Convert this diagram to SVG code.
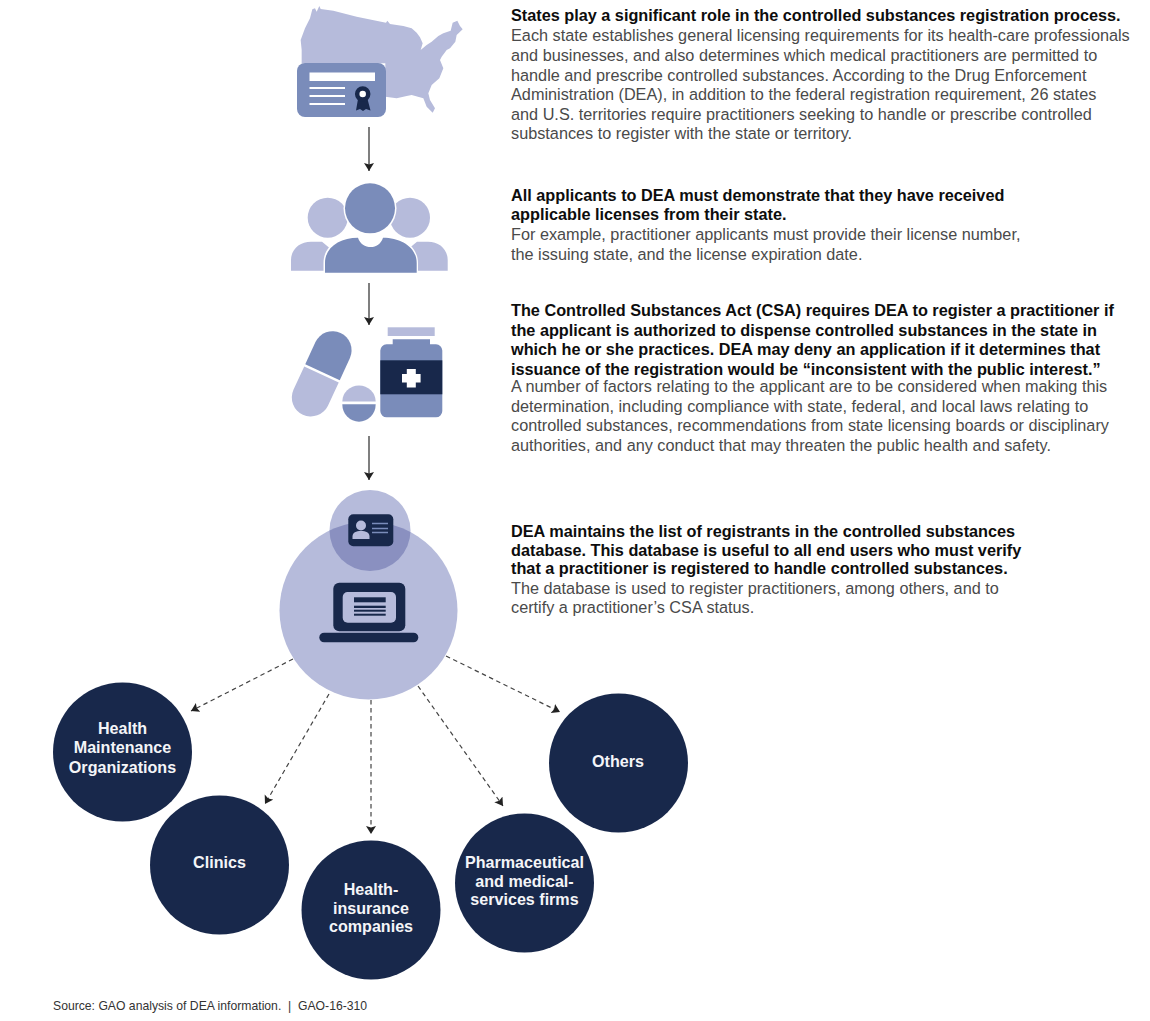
<svg xmlns="http://www.w3.org/2000/svg" width="1150" height="1021" viewBox="0 0 1150 1021">
<style>
text{font-family:"Liberation Sans",Arial,sans-serif}
.h{font-size:16.25px;font-weight:bold;fill:#0d0d0d}
.b{font-size:16.25px;fill:#4a4a4a}
.l{font-size:16.1px;font-weight:bold;fill:#f4f5f8;text-anchor:middle}
.s{font-size:12.2px;fill:#333;white-space:pre}
.lt{fill:#b6bbdb}.md{fill:#7a8cba}.dk{fill:#18284b}.wh{fill:#fff}
.solid{stroke:#555;stroke-width:1.5;fill:none;marker-end:url(#a)}
.dash{stroke:#444;stroke-width:1.2;fill:none;stroke-dasharray:4.500 3.500;marker-end:url(#a)}
</style>
<defs><marker id="a" markerUnits="userSpaceOnUse" markerWidth="10" markerHeight="11" refX="8" refY="5" orient="auto"><path d="M0 0L8 5L0 10L1.500 5Z" fill="#222"/></marker>
<clipPath id="big"><circle cx="368.500" cy="610.500" r="89"/></clipPath></defs>
<rect width="1150" height="1021" fill="#fff"/>
<g id="connectors">
<path class="solid" d="M369 127V171"/>
<path class="solid" d="M369 283V325"/>
<path class="solid" d="M369 436V480"/>
<path class="dash" d="M293 659L191 711"/>
<path class="dash" d="M329 694L265 804"/>
<path class="dash" d="M371 700V834"/>
<path class="dash" d="M418 686L503 806"/>
<path class="dash" d="M446 656L560 712"/>
</g>
<g id="states-icon">
<path class="lt" transform="translate(280 0) scale(.33333)" d="M118 18L122 27L160 32L230 50L318 68L322 62L330 72L370 78L395 85L410 98L420 112L428 130L422 150L440 135L455 125L475 108L490 100L512 92L518 68L532 62L540 78L548 88L530 105L526 125L510 145L500 150L485 170L480 180L490 205L478 235L455 255L445 280L450 300L465 325L458 338L440 320L430 295L395 285L380 288L350 295L316 290V190H65L65 150L62 120L75 85L90 55L97 28L105 25L110 35Z"/>
<rect class="md" x="297" y="63" width="89" height="54" rx="8"/>
<rect class="wh" x="309.500" y="72.500" width="65.500" height="8.500"/>
<path d="M309.500 88H345M309.500 96H345M309.500 104H345" stroke="#fff" stroke-width="2" fill="none"/>
<path class="dk" d="M358 99L356 110.500L360 109L363 111L366 109L370.500 110.500L367.500 99Z"/>
<circle cx="362.700" cy="94" r="5.500" fill="#fff" stroke="#18284b" stroke-width="4.500"/>
</g>
<g id="applicants-icon">
<circle class="lt" cx="327.700" cy="217.700" r="20"/>
<circle class="lt" cx="410" cy="217.700" r="20"/>
<path class="lt" d="M291 270.700V260C291 249 300 241.700 311 241.700H322L332 250V270.700ZM447.700 270.700V260C447.700 249 439 241.700 428 241.700H417L407 250V270.700Z"/>
<circle class="wh" cx="370" cy="208.300" r="26.500"/>
<circle class="md" cx="370" cy="208.300" r="25"/>
<path d="M323.500 274V263C323.500 246 339 236 357 236C360 243 364 247 371 247C377 247 381 243 384 236C402 236 418 246 418 263V274Z" fill="#fff"/>
<path class="md" d="M325 272.700V263C325 247 340 237.700 358 237.700C360 244 365 247 371 247C376 247 381 244 383 237.700C401 237.700 416.700 247 416.700 263V272.700Z"/>
</g>
<g id="medication-icon">
<path class="md" d="M305.250 364.200L315.450 342.040A19 19 0 0 1 349.950 357.960L339.750 380.200Z"/>
<path class="lt" d="M304.250 366.400L293.450 389.740A19 19 0 0 0 327.950 405.660L338.750 382.400Z"/>
<path class="lt" d="M342.300 401.500A16.700 16 0 0 1 375.700 401.500Z"/>
<path class="md" d="M342.300 404.200H375.700A16.700 17.500 0 0 1 342.300 404.200Z"/>
<rect class="lt" x="387.700" y="327.300" width="47" height="8.700"/>
<path class="md" d="M392.700 339.300H430V344.300H436A6.300 6.300 0 0 1 442.300 350.600V411A6.300 6.300 0 0 1 436 417.300H386.600A6.300 6.300 0 0 1 380.300 411V350.600A6.300 6.300 0 0 1 386.600 344.300H392.700Z"/>
<rect class="dk" x="380.300" y="360.300" width="62" height="34"/>
<path class="wh" d="M406.800 369H415.800V374H420.600V382.600H415.800V387.600H406.800V382.600H402V374H406.800Z"/>
</g>
<g id="database-icon">
<circle class="lt" cx="368.500" cy="610.500" r="89"/>
<circle class="lt" cx="370" cy="530.500" r="40.500"/>
<circle cx="370" cy="530.500" r="40.500" fill="#8a90c0" clip-path="url(#big)"/>
<rect class="dk" x="348.300" y="514.300" width="45" height="32" rx="5"/>
<circle class="lt" cx="361" cy="525.500" r="5"/>
<path class="lt" d="M352.500 539V536.500C352.500 532.500 356 531 361 531C366 531 369.500 532.500 369.500 536.500V539Z"/>
<path d="M372 523.500H388M372 528.500H388M372 532.500H388" stroke="#7a8cba" stroke-width="1.300" fill="none"/>
<rect class="dk" x="333.300" y="582.700" width="72" height="48.500" rx="6"/>
<rect class="lt" x="342.700" y="592" width="53.300" height="30.700" rx="5"/>
<rect class="dk" x="354" y="597.300" width="31.700" height="5"/>
<rect class="dk" x="354" y="605.700" width="31.700" height="2.300"/>
<rect class="dk" x="354" y="609.700" width="31.700" height="2"/>
<rect class="dk" x="354" y="613.700" width="31.700" height="2"/>
<rect class="dk" x="319.300" y="632.700" width="99" height="9.600" rx="4.800"/>
</g>
<g id="text-1">
<text class="h" x="511" y="21">States play a significant role in the controlled substances registration process.</text>
<text class="b" x="511" y="41">Each state establishes general licensing requirements for its health-care professionals</text>
<text class="b" x="511" y="61">and businesses, and also determines which medical practitioners are permitted to</text>
<text class="b" x="511" y="81">handle and prescribe controlled substances. According to the Drug Enforcement</text>
<text class="b" x="511" y="100">Administration (DEA), in addition to the federal registration requirement, 26 states</text>
<text class="b" x="511" y="120">and U.S. territories require practitioners seeking to handle or prescribe controlled</text>
<text class="b" x="511" y="139">substances to register with the state or territory.</text>
</g>
<g id="text-2">
<text class="h" x="511" y="201">All applicants to DEA must demonstrate that they have received</text>
<text class="h" x="511" y="220">applicable licenses from their state.</text>
<text class="b" x="511" y="240">For example, practitioner applicants must provide their license number,</text>
<text class="b" x="511" y="260">the issuing state, and the license expiration date.</text>
</g>
<g id="text-3">
<text class="h" x="511" y="316">The Controlled Substances Act (CSA) requires DEA to register a practitioner if</text>
<text class="h" x="511" y="336">the applicant is authorized to dispense controlled substances in the state in</text>
<text class="h" x="511" y="355">which he or she practices. DEA may deny an application if it determines that</text>
<text class="h" x="511" y="375">issuance of the registration would be “inconsistent with the public interest.”</text>
<text class="b" x="511" y="392">A number of factors relating to the applicant are to be considered when making this</text>
<text class="b" x="511" y="412">determination, including compliance with state, federal, and local laws relating to</text>
<text class="b" x="511" y="431">controlled substances, recommendations from state licensing boards or disciplinary</text>
<text class="b" x="511" y="451">authorities, and any conduct that may threaten the public health and safety.</text>
</g>
<g id="text-4">
<text class="h" x="511" y="537">DEA maintains the list of registrants in the controlled substances</text>
<text class="h" x="511" y="556">database. This database is useful to all end users who must verify</text>
<text class="h" x="511" y="574">that a practitioner is registered to handle controlled substances.</text>
<text class="b" x="511" y="594">The database is used to register practitioners, among others, and to</text>
<text class="b" x="511" y="613">certify a practitioner’s CSA status.</text>
</g>
<g id="hmo"><circle class="dk" cx="122.500" cy="752" r="69.500"/>
<text class="l" x="122.500" y="734">Health</text><text class="l" x="122.500" y="753">Maintenance</text><text class="l" x="122.500" y="773">Organizations</text></g>
<g id="clinics"><circle class="dk" cx="219.500" cy="865" r="69.500"/>
<text class="l" x="219.500" y="868">Clinics</text></g>
<g id="health-insurance"><circle class="dk" cx="371" cy="910" r="69.500"/>
<text class="l" x="371" y="895">Health-</text><text class="l" x="371" y="914">insurance</text><text class="l" x="371" y="932">companies</text></g>
<g id="pharma"><circle class="dk" cx="524.500" cy="883" r="69.500"/>
<text class="l" x="524.500" y="868">Pharmaceutical</text><text class="l" x="524.500" y="887">and medical-</text><text class="l" x="524.500" y="905">services firms</text></g>
<g id="others"><circle class="dk" cx="618.500" cy="763" r="69.500"/>
<text class="l" x="618" y="767">Others</text></g>
<text class="s" x="53" y="1010">Source: GAO analysis of DEA information.  |  GAO-16-310</text>
</svg>
